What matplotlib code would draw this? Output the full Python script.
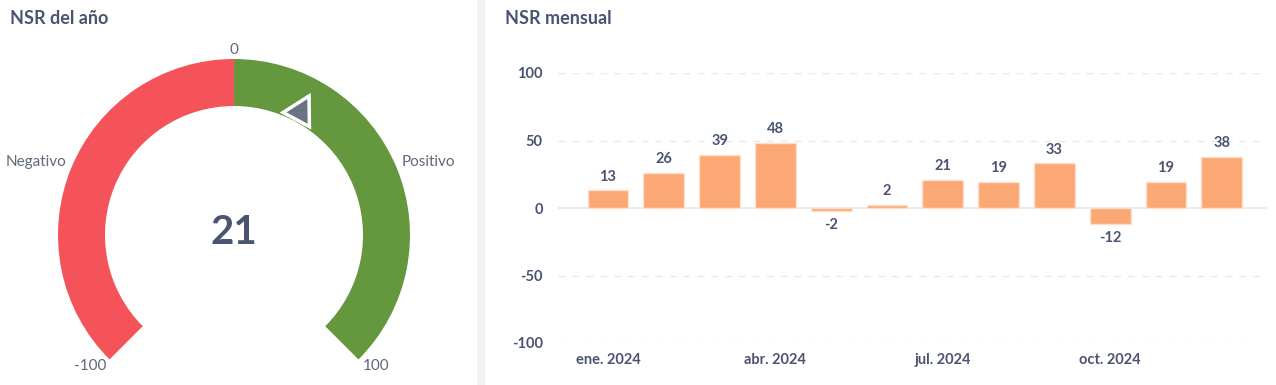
import numpy as np
import matplotlib.pyplot as plt
from matplotlib.patches import Wedge, Polygon, Rectangle

plt.rcParams['font.family'] = ['Lato', 'DejaVu Sans']

# data
nsr_year = 21
gauge_min, gauge_max = -100, 100
months = ['ene. 2024', 'feb. 2024', 'mar. 2024', 'abr. 2024', 'may. 2024', 'jun. 2024',
          'jul. 2024', 'ago. 2024', 'sep. 2024', 'oct. 2024', 'nov. 2024', 'dic. 2024']
nsr_month = [13, 26, 39, 48, -2, 2, 21, 19, 33, -12, 19, 38]
y_ticks = [-100, -50, 0, 50, 100]

W, H = 1276, 385
dark = '#4a5470'
grey_txt = '#5f6878'
red = '#f5535a'
green = '#65973f'
orange = '#fba874'

fig = plt.figure(figsize=(W / 100, H / 100), dpi=100)

# card divider
fig.patches.append(Rectangle((477 / W, 0), 8 / W, 1, transform=fig.transFigure,
                             facecolor='#f2f3f6', edgecolor='none'))

# ---------- gauge ----------
ax = fig.add_axes([0, 0, 476 / W, 1])
ax.set_xlim(0, 476)
ax.set_ylim(0, H)
ax.axis('off')

cx, cy = 234, H - 235
R, r = 176, 129


def ang(v):
    # -100 -> 225 deg, 100 -> -45 deg
    return 90 - v * 135 / 100


ax.add_patch(Wedge((cx, cy), R, ang(0), ang(gauge_min), width=R - r, facecolor=red, edgecolor='none'))
ax.add_patch(Wedge((cx, cy), R, ang(gauge_max), ang(0), width=R - r, facecolor=green, edgecolor='none'))

# pointer
a = np.deg2rad(ang(nsr_year))
def pt(rad, da):
    t = a + np.deg2rad(da)
    return (cx + rad * np.cos(t), cy + rad * np.sin(t))

ax.add_patch(Polygon([pt(132, 6.5), pt(158, 0), pt(132, -6.5)], closed=True,
                     facecolor='#6b7280', edgecolor='white', linewidth=2.5, joinstyle='miter'))

ax.text(cx, cy + 3, str(nsr_year), ha='center', va='center', fontsize=29,
        fontweight='bold', color=dark)
ax.text(cx, H - 50, '0', ha='center', va='center', fontsize=11, color=grey_txt)
ax.text(66, H - 162, 'Negativo', ha='right', va='center', fontsize=11, color=grey_txt)
ax.text(402, H - 162, 'Positivo', ha='left', va='center', fontsize=11, color=grey_txt)
ax.text(90, H - 366, str(gauge_min), ha='center', va='center', fontsize=11, color=grey_txt)
ax.text(376, H - 366, str(gauge_max), ha='center', va='center', fontsize=11, color=grey_txt)

fig.text(10 / W, 1 - 18 / H, 'NSR del año', ha='left', va='center', fontsize=13,
         fontweight='bold', color=dark)

# ---------- bar chart ----------
fig.text(505 / W, 1 - 18 / H, 'NSR mensual', ha='left', va='center', fontsize=13,
         fontweight='bold', color=dark)

bx = fig.add_axes([558 / W, 1 - 343 / H, (1267 - 558) / W, 270 / H])
x = np.arange(len(months))
bx.bar(x, nsr_month, width=0.73, color=orange, edgecolor='#fde0cc', linewidth=1, zorder=3)
for xi, v in zip(x, nsr_month):
    if v >= 0:
        bx.annotate(str(v), (xi, v), xytext=(0, 5), textcoords='offset points',
                    ha='center', va='bottom', fontsize=10.5, fontweight='bold', color=dark)
    else:
        bx.annotate(str(v), (xi, v), xytext=(0, -5), textcoords='offset points',
                    ha='center', va='top', fontsize=10.5, fontweight='bold', color=dark)

bx.set_ylim(-100, 100)
bx.set_xlim(-0.896, 11.81)
bx.set_yticks(y_ticks)
bx.set_yticklabels([str(t) for t in y_ticks])
bx.set_xticks(x[::3])
bx.set_xticklabels(months[::3])
for t in y_ticks:
    if t == 0:
        bx.axhline(t, color='#e5e7eb', linewidth=1.2, zorder=2)
    else:
        bx.axhline(t, color='#e8e9ee', linewidth=1, linestyle=(0, (5, 5)), zorder=1)
for s in bx.spines.values():
    s.set_visible(False)
bx.tick_params(axis='both', length=0, labelsize=10.5, labelcolor=dark)
bx.tick_params(axis='y', pad=11)
bx.tick_params(axis='x', pad=7)
for lab in bx.get_xticklabels() + bx.get_yticklabels():
    lab.set_fontweight('bold')

fig.savefig('out.png', dpi=100)
